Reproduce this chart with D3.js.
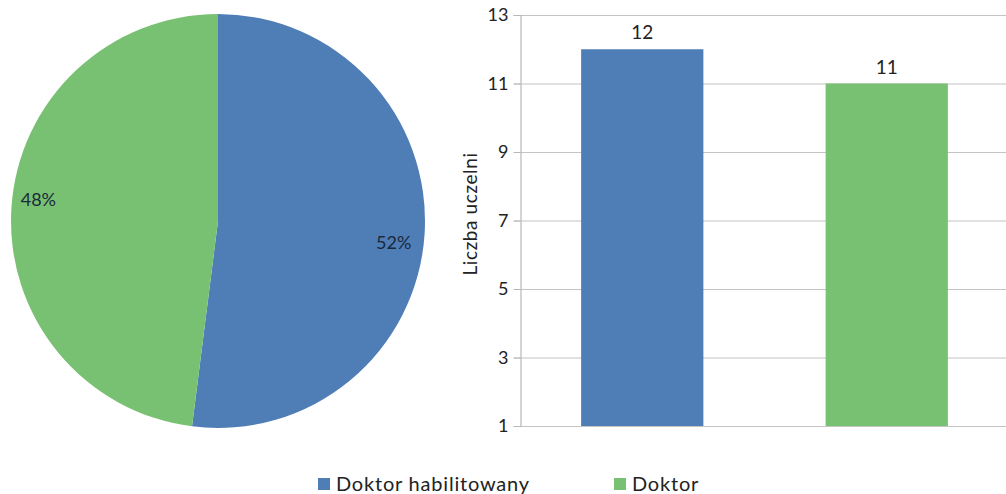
<!DOCTYPE html>
<html>
<head>
<meta charset="utf-8">
<script src="https://cdn.jsdelivr.net/npm/d3@7"></script>
<style>
  html, body { margin: 0; padding: 0; background: #fff; }
  svg { display: block; font-family: Lato, "Open Sans", sans-serif; }
</style>
</head>
<body>
<svg id="chart" width="1006" height="494"></svg>
<script>
// Degree categories, their shares and counts of institutions
const categories = ["Doktor habilitowany", "Doktor"];
const shareValues = [52, 48];
const countValues = [12, 11];
const countTicks = [1, 3, 5, 7, 9, 11, 13];
const colors = ["#4f7db6", "#79c172"];
const yAxisTitle = "Liczba uczelni";

const svg = d3.select("#chart");

// ---- Pie ----
const cx = 218, cy = 221, r = 207;
const pieG = svg.append("g").attr("transform", `translate(${cx},${cy})`);
const pie = d3.pie().sort(null).value(d => d)(shareValues);
const arc = d3.arc().innerRadius(0).outerRadius(r);
const labelArc = d3.arc().innerRadius(r * 0.86).outerRadius(r * 0.86);

pieG.selectAll("path.slice")
  .data(pie)
  .join("path")
  .attr("class", "slice")
  .attr("d", arc)
  .attr("fill", (d, i) => colors[i]);

pieG.selectAll("text.pct")
  .data(pie)
  .join("text")
  .attr("class", "pct")
  .attr("x", d => labelArc.centroid(d)[0] - 2)
  .attr("y", d => labelArc.centroid(d)[1] + (d.index === 0 ? 12 : -8))
  .attr("text-anchor", "middle")
  .attr("dominant-baseline", "middle")
  .attr("font-size", 18)
  .attr("fill", "#1a2a3a")
  .text(d => d.data + "%");

// ---- Bars ----
const plot = { left: 520, right: 1009, top: 15, bottom: 426 };
const x = d3.scaleBand()
  .domain(categories)
  .range([plot.left, plot.right])
  .paddingInner(0.5)
  .paddingOuter(0.25);
const y = d3.scaleLinear()
  .domain([1, 13])
  .range([plot.bottom, plot.top]);

// Gridlines
svg.append("g")
  .selectAll("line")
  .data(countTicks)
  .join("line")
  .attr("x1", plot.left - 6)
  .attr("x2", plot.right)
  .attr("y1", d => y(d) + 0.5)
  .attr("y2", d => y(d) + 0.5)
  .attr("stroke", "#c4c4c4")
  .attr("stroke-width", 1.2);

// Bars start at the axis floor
svg.append("g")
  .selectAll("rect")
  .data(countValues)
  .join("rect")
  .attr("x", (d, i) => x(categories[i]))
  .attr("width", x.bandwidth())
  .attr("y", d => y(d))
  .attr("height", d => y(1) - y(d))
  .attr("fill", (d, i) => colors[i]);

// Y axis
const yAxis = d3.axisLeft(y).tickValues(countTicks).tickSize(7).tickPadding(5);
const yG = svg.append("g")
  .attr("transform", `translate(${plot.left + 0.5},0)`)
  .call(yAxis);
yG.select(".domain").attr("stroke", "#b8b8b8").attr("stroke-width", 1.2);
yG.selectAll(".tick line").attr("stroke", "#b8b8b8");
yG.selectAll(".tick text")
  .attr("font-size", 18)
  .attr("font-family", "Lato, sans-serif")
  .attr("fill", "#222");

// Axis title
svg.append("text")
  .attr("transform", `translate(477, 214) rotate(-90)`)
  .attr("text-anchor", "middle")
  .attr("font-size", 19)
  .attr("letter-spacing", 0.6)
  .attr("fill", "#222")
  .text(yAxisTitle);

// Value labels
svg.append("g")
  .selectAll("text")
  .data(countValues)
  .join("text")
  .attr("x", (d, i) => x(categories[i]) + x.bandwidth() / 2)
  .attr("y", d => y(d) - 10)
  .attr("text-anchor", "middle")
  .attr("font-size", 19)
  .attr("fill", "#222")
  .text(d => d);

// ---- Legend ----
const legendX = [318, 614];
const legend = svg.append("g")
  .selectAll("g")
  .data(categories)
  .join("g")
  .attr("transform", (d, i) => `translate(${legendX[i]}, 478)`);
legend.append("rect")
  .attr("width", 12)
  .attr("height", 12)
  .attr("fill", (d, i) => colors[i]);
legend.append("text")
  .attr("x", 18)
  .attr("y", 13)
  .attr("font-size", 20)
  .attr("letter-spacing", 0.8)
  .attr("fill", "#222")
  .text(d => d);
</script>
</body>
</html>
